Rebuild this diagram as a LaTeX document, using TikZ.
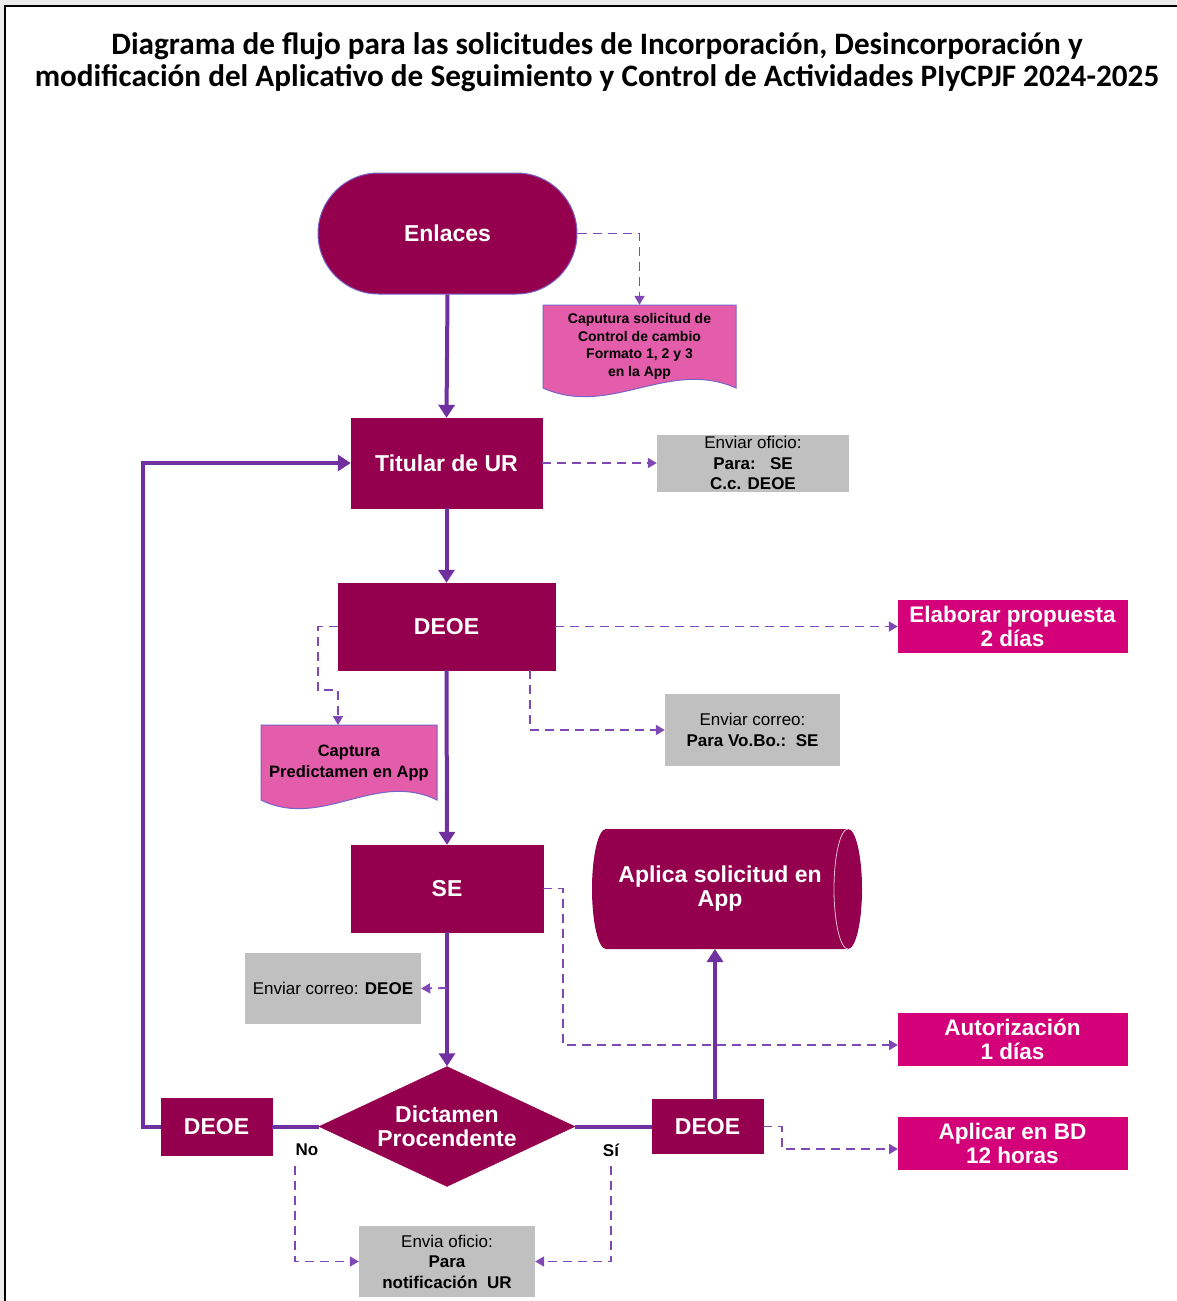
\documentclass[tikz,border=0pt]{standalone}
\usepackage{fontspec}
\setmainfont{Liberation Sans}
\newfontfamily\titlefont{Carlito}
\usetikzlibrary{shapes.geometric,shapes.misc,arrows.meta,calc}
\definecolor{mymaroon}{RGB}{148,0,78}
\definecolor{mypink}{RGB}{227,93,170}
\definecolor{mymagenta}{RGB}{212,0,122}
\definecolor{mygrey}{RGB}{192,192,192}
\definecolor{myline}{RGB}{112,48,160}
\definecolor{mydash}{RGB}{128,72,180}
\definecolor{myborder}{RGB}{120,100,200}
\tikzset{
  darkbox/.style={fill=mymaroon, draw=mymaroon, text=white, align=center, inner sep=0pt,
    font=\bfseries\fontsize{23}{24}\selectfont},
  timebox/.style={fill=mymagenta, draw=mymagenta, text=white, align=center, inner sep=0pt,
    minimum width=229pt, minimum height=52pt, font=\bfseries\fontsize{22.5}{24}\selectfont},
  greybox/.style={fill=mygrey, draw=none, text=black, align=center, inner sep=0pt,
    font=\fontsize{17}{20.5}\selectfont},
  doctext/.style={text=black, align=center, inner sep=0pt},
  docshape/.style={fill=mypink, draw=myborder, line width=1pt},
  flow/.style={draw=myline, line width=4pt, -{Triangle[width=16pt,length=13pt]}},
  flowplain/.style={draw=myline, line width=4pt},
  dashflow/.style={draw=mydash, line width=1.8pt, dash pattern=on 9pt off 6pt,
    -{Triangle[width=10pt,length=9pt]}},
  lbl/.style={text=black, font=\bfseries\fontsize{17}{20}\selectfont, inner sep=0pt}
}
\begin{document}
\begin{tikzpicture}[x=1pt,y=-1pt]
\useasboundingbox (0,0) rectangle (1176,1301);
\fill[black!8] (0,0) rectangle (1176,1301);
\fill[white] (5,6) rectangle (1180,1310);
\draw[black, line width=2pt] (5,1310) -- (5,6) -- (1180,6);

% title
\node[align=center, inner sep=0pt, font=\titlefont\bfseries\fontsize{31.2}{32}\selectfont] (title) at (597,62)
  {Diagrama de flujo para las solicitudes de Incorporación, Desincorporación y\\
   modificación del Aplicativo de Seguimiento y Control de Actividades PIyCPJF 2024-2025};

% Enlaces
\node[rounded rectangle, fill=mymaroon, draw=myborder, line width=1pt, text=white,
  minimum width=259pt, minimum height=121pt, inner sep=0pt,
  font=\bfseries\fontsize{23}{24}\selectfont] (enl) at (447.5,233.5) {Enlaces};

% document 1
\path[docshape] (543,305) -- (736,305) -- (736,388)
  .. controls (669,358) and (610,418) .. (543,388) -- cycle;
\node[doctext, minimum width=193pt, minimum height=83pt,
  font=\bfseries\fontsize{14}{17.5}\selectfont] (doc1) at (639.5,346.5)
  {Caputura solicitud de\\ Control de cambio\\ Formato 1, 2 y 3\\ en la App};

% Titular
\node[darkbox, minimum width=191pt, minimum height=90pt] (tit) at (446.5,463) {Titular de UR};
\node[greybox, minimum width=192pt, minimum height=57pt] (g1) at (753,463)
  {Enviar oficio:\\ \textbf{Para:\ \ \ SE}\\ \textbf{C.c. DEOE}};

% DEOE 1
\node[darkbox, minimum width=217pt, minimum height=87pt] (deoe1) at (446.5,626.5) {DEOE};
\node[timebox] (elab) at (1012.5,626.5) {Elaborar propuesta\\ 2 días};
\node[greybox, minimum width=175pt, minimum height=72pt] (g2) at (752.5,730)
  {Enviar correo:\\ \textbf{Para Vo.Bo.:\ \ SE}};

% document 2
\path[docshape] (261,725) -- (437,725) -- (437,800)
  .. controls (376,770) and (322,830) .. (261,800) -- cycle;
\node[doctext, minimum width=176pt, minimum height=75pt,
  font=\bfseries\fontsize{16.5}{21}\selectfont] (doc2) at (349,762.5)
  {Captura\\ Predictamen en App};

% SE
\node[darkbox, minimum width=192pt, minimum height=87pt] (se) at (447,888.5) {SE};

% cylinder
\path[fill=mymaroon] (606,829) -- (848,829)
  arc[start angle=270, end angle=450, x radius=14, y radius=60]
  -- (606,949)
  arc[start angle=90, end angle=270, x radius=14, y radius=60] -- cycle;
\draw[white!75!mymaroon, line width=0.8pt] (848,949)
  arc[start angle=90, end angle=270, x radius=14, y radius=60];
\node[text=white, align=center, inner sep=0pt, minimum width=270pt, minimum height=120pt,
  font=\bfseries\fontsize{23}{24}\selectfont] (cyl) at (720,889) {Aplica solicitud en\\ App};

\node[greybox, minimum width=176pt, minimum height=71pt] (g3) at (333,988.5)
  {Enviar correo: \textbf{DEOE}};
\node[timebox] (auth) at (1012.5,1039) {Autorización\\ 1 días};

% decision
\node[diamond, aspect=2.13, fill=mymaroon, draw=mymaroon, text=white, align=center,
  inner sep=0pt, minimum width=256pt, minimum height=120pt,
  font=\bfseries\fontsize{23}{24}\selectfont] (dia) at (447,1126.5) {Dictamen\\ Procendente};
\node[darkbox, minimum width=111pt, minimum height=57pt] (deoeL) at (216.5,1126.5) {DEOE};
\node[darkbox, minimum width=111pt, minimum height=54pt] (deoeR) at (707.5,1126.5) {DEOE};
\node[timebox] (apl) at (1012.5,1143) {Aplicar en BD\\ 12 horas};
\node[greybox, minimum width=176pt, minimum height=71pt] (g4) at (447,1261.5)
  {Envia oficio:\\ \textbf{Para}\\ \textbf{notificación\ \ UR}};

\node[lbl] (no) at (307,1150) {No};
\node[lbl] (si) at (611,1150) {Sí};

% helper coordinates
\coordinate (d2in) at (338,725);
\coordinate (d1b) at (530,670);
\coordinate (seR) at (563,888.5);
\coordinate (authin) at (898,1045);
\coordinate (seDash) at (447,988);
\coordinate (aplin) at (898,1149);
\coordinate (cylin) at (715,949);
\coordinate (dRtop) at (715,1099.5);
\coordinate (noTop) at (295,1166);
\coordinate (siTop) at (611,1166);
\coordinate (loopL) at (143,1126.5);

% solid connectors
\draw[flow] (enl.south) -- (tit.north);
\draw[flow] (tit.south) -- (deoe1.north);
\draw[flow] (deoe1.south) -- (se.north);
\draw[flow] (se.south) -- (dia.north);
\draw[flowplain] (dia.west) -- (deoeL.east);
\draw[flowplain] (dia.east) -- (deoeR.west);
\draw[flow] (deoeL.west) -- (loopL) |- (tit.west);
\draw[flow] (dRtop) -- (cylin);

% dashed connectors
\draw[dashflow] (enl.east) -| (doc1.north);
\draw[dashflow] (tit.east) -- (g1.west);
\draw[dashflow] (deoe1.east) -- (elab.west);
\draw[dashflow] (deoe1.west) -- ++(-20,0) |- (338,690) -- (d2in);
\draw[dashflow] (d1b) |- (g2.west);
\draw[dashflow] (se.east) -- (seR) |- (authin);
\draw[dashflow] (seDash) -- (g3.east);
\draw[dashflow] (deoeR.east) -- ++(19,0) |- (aplin);
\draw[dashflow] (noTop) |- (g4.west);
\draw[dashflow] (siTop) |- (g4.east);
\end{tikzpicture}
\end{document}
